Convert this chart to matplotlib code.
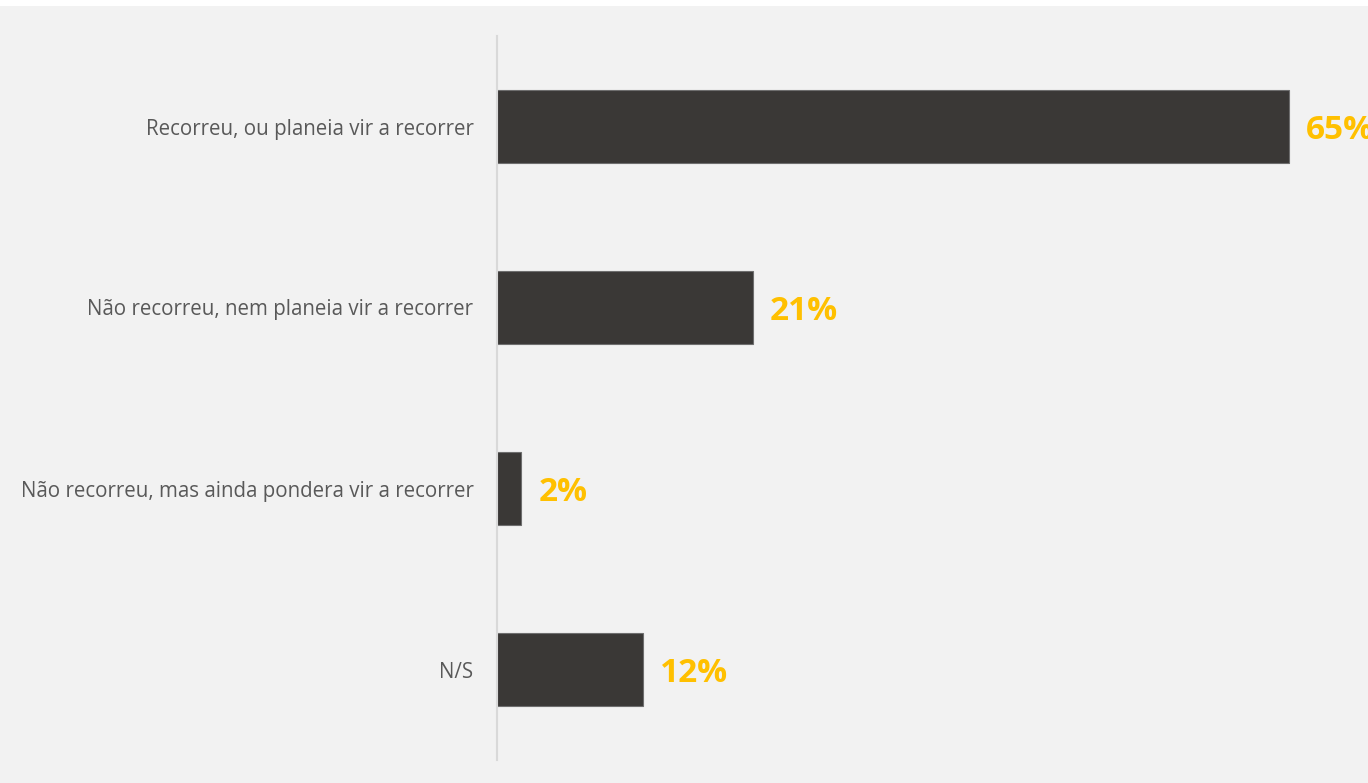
import matplotlib.pyplot as plt

categories = [
    "Recorreu, ou planeia vir a recorrer",
    "Não recorreu, nem planeia vir a recorrer",
    "Não recorreu, mas ainda pondera vir a recorrer",
    "N/S",
]
values = [65, 21, 2, 12]
value_labels = ["65%", "21%", "2%", "12%"]

plt.rcParams['font.family'] = ['Open Sans', 'DejaVu Sans']

fig = plt.figure(figsize=(13.68, 7.83), dpi=100, facecolor='#f2f2f2')
# thin white strip along the top edge
fig.patches.append(plt.Rectangle((0, 1 - 6 / 783), 1, 6 / 783, transform=fig.transFigure,
                                 facecolor='white', edgecolor='none'))

ax = fig.add_axes([497 / 1368, 23 / 783, 871 / 1368, 724 / 783])
ax.set_facecolor('none')

ypos = list(range(len(categories)))
ax.barh(ypos, values, height=0.4, color='#3a3836', edgecolor='#6e6e6e', linewidth=0.8)

for y, v, lab in zip(ypos, values, value_labels):
    ax.text(v + 1.4, y + 0.02, lab, va='center', ha='left', fontsize=24,
            fontweight='bold', color='#ffc000', clip_on=False)

ax.set_yticks(ypos)
ax.set_yticklabels(categories, fontsize=14.8, color='#595959')
ax.tick_params(axis='y', length=0, pad=17)
ax.set_xticks([])
ax.set_xlim(0, 71.5)
ax.set_ylim(3.5, -0.5)

for side in ['top', 'right', 'bottom']:
    ax.spines[side].set_visible(False)
ax.spines['left'].set_color('#d9d9d9')
ax.spines['left'].set_linewidth(1.5)

fig.savefig('out.png', dpi=100, facecolor=fig.get_facecolor())
